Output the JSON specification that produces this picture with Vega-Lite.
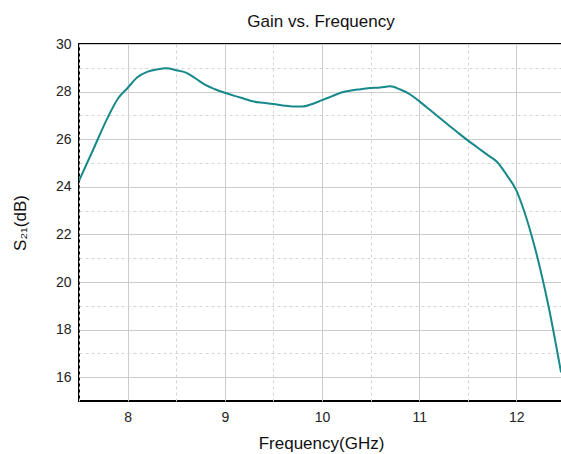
{
  "$schema": "https://vega.github.io/schema/vega-lite/v6.json",
  "autosize": "none",
  "width": 484,
  "height": 357,
  "padding": {"left": 79, "top": 44, "right": 0, "bottom": 53},
  "background": "white",
  "title": {
    "text": "Gain vs. Frequency",
    "font": "Liberation Sans",
    "fontSize": 17,
    "fontWeight": "normal",
    "color": "#111",
    "anchor": "middle",
    "baseline": "alphabetic",
    "offset": 17,
    "dy": 24
  },
  "config": {
    "view": {"stroke": "black", "strokeWidth": 2},
    "axis": {"labelFont": "Liberation Sans", "titleFont": "Liberation Sans", "labelColor": "#222", "titleColor": "#111"}
  },
  "data": {
    "values": [
      {"f": 7.5, "s21": 24.25},
      {"f": 7.65, "s21": 25.6},
      {"f": 7.8, "s21": 26.95},
      {"f": 7.9, "s21": 27.7},
      {"f": 8.0, "s21": 28.15},
      {"f": 8.1, "s21": 28.6},
      {"f": 8.2, "s21": 28.83},
      {"f": 8.3, "s21": 28.93},
      {"f": 8.4, "s21": 28.98},
      {"f": 8.5, "s21": 28.9},
      {"f": 8.6, "s21": 28.8},
      {"f": 8.7, "s21": 28.55},
      {"f": 8.8, "s21": 28.28},
      {"f": 8.9, "s21": 28.1},
      {"f": 9.0, "s21": 27.95},
      {"f": 9.1, "s21": 27.82},
      {"f": 9.2, "s21": 27.7},
      {"f": 9.3, "s21": 27.58},
      {"f": 9.4, "s21": 27.53},
      {"f": 9.5, "s21": 27.48},
      {"f": 9.6, "s21": 27.42},
      {"f": 9.7, "s21": 27.37},
      {"f": 9.8, "s21": 27.37},
      {"f": 9.9, "s21": 27.48},
      {"f": 10.0, "s21": 27.64},
      {"f": 10.1, "s21": 27.8},
      {"f": 10.2, "s21": 27.96},
      {"f": 10.3, "s21": 28.05},
      {"f": 10.4, "s21": 28.1},
      {"f": 10.5, "s21": 28.15},
      {"f": 10.6, "s21": 28.17},
      {"f": 10.7, "s21": 28.22},
      {"f": 10.8, "s21": 28.1},
      {"f": 10.9, "s21": 27.9},
      {"f": 11.0, "s21": 27.6},
      {"f": 11.1, "s21": 27.27},
      {"f": 11.2, "s21": 26.93},
      {"f": 11.3, "s21": 26.6},
      {"f": 11.4, "s21": 26.27},
      {"f": 11.5, "s21": 25.95},
      {"f": 11.6, "s21": 25.65},
      {"f": 11.7, "s21": 25.35},
      {"f": 11.8, "s21": 25.05},
      {"f": 11.9, "s21": 24.5},
      {"f": 12.0, "s21": 23.85},
      {"f": 12.07, "s21": 23.1},
      {"f": 12.2, "s21": 21.3},
      {"f": 12.33, "s21": 19.0},
      {"f": 12.46, "s21": 16.2}
    ]
  },
  "mark": {"type": "line", "color": "#17898a", "strokeWidth": 2, "interpolate": "monotone", "clip": true},
  "encoding": {
    "x": {
      "field": "f",
      "type": "quantitative",
      "scale": {"domain": [7.5, 12.48], "nice": false, "zero": false},
      "axis": {
        "values": [7.5, 8, 8.5, 9, 9.5, 10, 10.5, 11, 11.5, 12, 12.5],
        "labelExpr": "datum.value % 1 === 0 ? '' + datum.value : ''",
        "domain": false,
        "ticks": false,
        "tickSize": 0,
        "labelPadding": 9,
        "labelFontSize": 14,
        "grid": true,
        "gridColor": {"condition": {"test": "datum.value % 1 !== 0", "value": "#d4d4d4"}, "value": "#cccccc"},
        "gridDash": {"condition": {"test": "datum.value % 1 !== 0", "value": [3, 3]}, "value": []},
        "gridWidth": 1,
        "title": "Frequency(GHz)",
        "titleFontSize": 17,
        "titleFontWeight": "normal",
        "titleBaseline": "alphabetic",
        "titleX": 242,
        "titleY": 47,
        "titleAnchor": "middle"
      }
    },
    "y": {
      "field": "s21",
      "type": "quantitative",
      "scale": {"domain": [15, 30], "nice": false, "zero": false},
      "axis": {
        "values": [16, 17, 18, 19, 20, 21, 22, 23, 24, 25, 26, 27, 28, 29, 30],
        "labelExpr": "datum.value % 2 === 0 ? datum.label : ''",
        "domain": false,
        "ticks": false,
        "tickSize": 0,
        "labelPadding": 8,
        "labelFontSize": 14,
        "grid": true,
        "gridColor": {"condition": {"test": "datum.value % 2 !== 0", "value": "#d4d4d4"}, "value": "#cccccc"},
        "gridDash": {"condition": {"test": "datum.value % 2 !== 0", "value": [3, 3]}, "value": []},
        "gridWidth": 1,
        "title": "S₂₁(dB)",
        "titleFontSize": 17,
        "titleFontWeight": "normal",
        "titleAngle": -90,
        "titleBaseline": "middle",
        "titleX": -59,
        "titleY": 178.5,
        "titleAnchor": "middle"
      }
    }
  }
}
